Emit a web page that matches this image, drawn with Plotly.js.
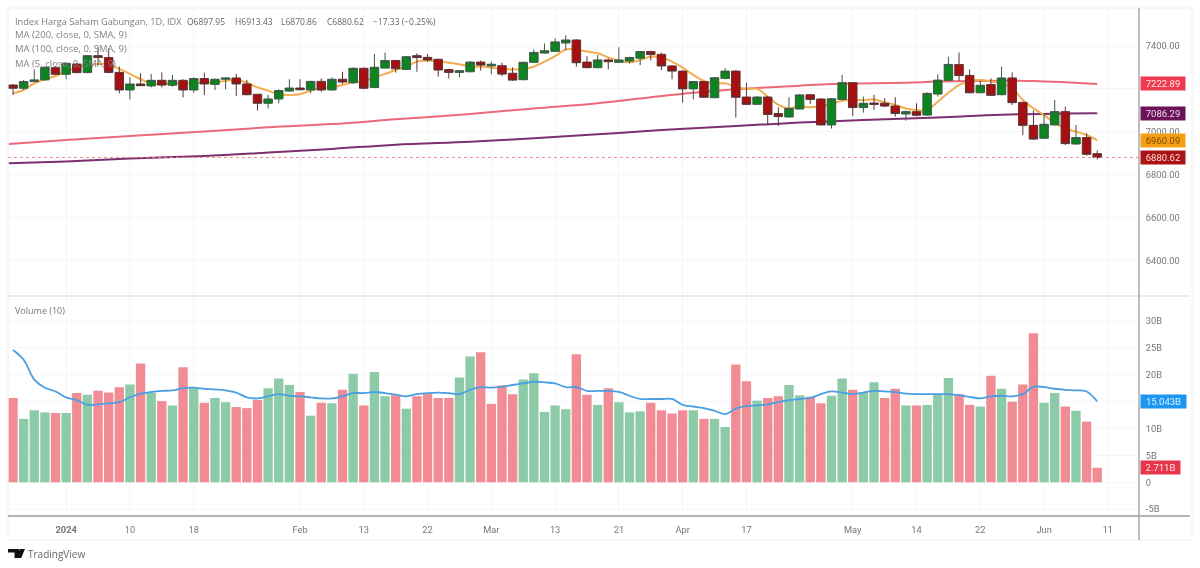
<!DOCTYPE html>
<html><head><meta charset="utf-8">
<script src="https://cdn.plot.ly/plotly-3.0.1.min.js"></script>
<style>html,body{margin:0;padding:0;background:#fff}#c{width:1200px;height:568px;filter:blur(0.45px)}</style></head>
<body><div id="c"></div>
<script>
const opens=[7218,7203,7234,7242,7299,7268,7316,7276,7355,7346,7277,7195,7223,7214,7240,7217,7240,7195,7248,7221,7245,7251,7223,7175,7133,7153,7190,7204,7195,7235,7195,7245,7229,7296,7207,7297,7332,7291,7355,7347,7338,7290,7277,7280,7325,7307,7308,7273,7243,7324,7367,7375,7414,7428,7325,7299,7335,7324,7330,7343,7374,7361,7307,7283,7200,7234,7159,7249,7283,7162,7128,7162,7085,7069,7106,7173,7153,7032,7151,7229,7113,7134,7133,7120,7083,7094,7078,7176,7240,7314,7263,7182,7220,7173,7251,7137,7030,6970,7032,7094,6943,6973,6897.95];
const highs=[7223,7242,7291,7304,7307,7322,7322,7358,7397,7389,7304,7254,7273,7270,7277,7265,7245,7254,7276,7248,7254,7270,7242,7176,7172,7198,7245,7245,7238,7249,7254,7280,7301,7301,7363,7369,7335,7353,7366,7363,7341,7291,7288,7329,7332,7327,7322,7301,7327,7384,7412,7436,7450,7431,7353,7358,7342,7394,7350,7377,7378,7369,7310,7288,7237,7237,7254,7296,7288,7229,7167,7167,7114,7161,7176,7176,7156,7158,7265,7232,7164,7173,7156,7161,7099,7133,7184,7268,7350,7370,7291,7238,7249,7304,7277,7140,7099,7083,7148,7117,7032,6993,6913.43];
const lows=[7172,7195,7234,7238,7265,7245,7273,7273,7311,7273,7179,7151,7214,7207,7207,7210,7161,7182,7172,7195,7198,7167,7170,7099,7109,7133,7187,7195,7179,7187,7192,7223,7223,7198,7203,7296,7276,7288,7280,7327,7257,7249,7254,7277,7285,7268,7260,7238,7240,7322,7366,7374,7381,7304,7296,7296,7291,7322,7319,7311,7332,7288,7245,7136,7151,7158,7156,7245,7066,7125,7125,7033,7027,7066,7105,7130,7030,7015,7148,7074,7089,7102,7114,7071,7052,7071,7075,7164,7237,7238,7179,7179,7167,7170,7125,6984,6962,6966,7029,6938,6940,6889,6870.86];
const closes=[7203,7234,7242,7301,7268,7319,7276,7355,7346,7277,7195,7223,7215,7240,7218,7240,7195,7248,7223,7245,7251,7223,7173,7133,7153,7192,7204,7196,7235,7195,7245,7232,7296,7203,7301,7332,7294,7350,7346,7335,7288,7277,7285,7325,7311,7315,7269,7241,7324,7370,7378,7419,7428,7322,7299,7335,7327,7335,7346,7374,7360,7307,7283,7200,7234,7161,7252,7283,7161,7128,7162,7081,7071,7109,7172,7151,7032,7154,7229,7113,7133,7128,7120,7085,7094,7077,7179,7241,7314,7262,7182,7217,7170,7251,7136,7030,6966,7035,7094,6945,6973,6895,6880.62];
const ma5=[7179,7195,7226,7245,7260,7280,7299,7311,7316,7315,7293,7270,7245,7226,7221,7226,7226,7226,7229,7231,7237,7242,7229,7207,7192,7175,7172,7175,7192,7203,7207,7218,7231,7237,7254,7270,7288,7304,7327,7332,7329,7322,7315,7304,7304,7299,7293,7291,7293,7304,7327,7353,7384,7384,7374,7366,7347,7332,7324,7335,7350,7347,7327,7299,7265,7237,7226,7226,7210,7200,7200,7164,7125,7109,7120,7114,7120,7130,7145,7148,7148,7151,7137,7125,7109,7102,7102,7140,7182,7218,7238,7241,7234,7226,7203,7148,7109,7078,7040,7016,7001,6985,6960.09];
const maRedX=[-0.4,5,11,18,24,30,36,43,49,55,60,64,68,74,77,84,87,93,96,99,102];
const maRed=[6943,6962,6980,7001,7021,7036,7058,7083,7109,7133,7161,7182,7198,7215,7223,7229,7234,7238,7237,7231,7222.89];
const maPurpleX=[-0.4,5,11,18,24,30,36,43,49,55,61,68,74,80,87,93,99,102];
const maPurple=[6853,6862,6875,6887,6903,6920,6940,6954,6970,6988,7008,7027,7043,7055,7067,7080,7085,7086.29];
const volume=[15.7,11.8,13.4,13.0,12.9,12.9,16.6,16.3,17.05,16.7,17.7,18.2,22.1,16.6,15.1,14.3,21.4,17.5,14.8,15.7,14.9,14.0,13.8,15.3,17.5,19.3,18.1,16.8,12.4,14.8,14.7,17.2,20.2,14.3,20.5,16.0,16.2,13.7,16.0,16.5,15.7,15.7,19.5,23.4,24.2,14.6,18.0,16.4,19.1,20.3,13.1,14.3,13.6,23.8,16.3,14.4,17.5,14.9,13.0,13.2,14.8,13.4,12.8,13.4,13.4,11.8,11.8,10.3,21.9,18.8,15.2,15.7,16.0,18.1,16.2,15.9,14.7,16.1,19.3,17.2,16.7,18.6,15.7,17.4,14.3,14.3,14.4,16.3,19.4,16.4,14.4,14.1,19.8,17.4,15.0,18.2,27.7,14.8,16.6,14.1,13.3,11.3,2.711];
const volDown="1,0,0,0,1,0,1,0,1,1,1,0,1,0,1,0,1,0,1,0,0,1,1,1,0,0,0,1,0,1,0,1,0,1,0,0,1,0,1,1,1,1,0,0,1,1,1,1,0,0,0,0,0,1,1,0,1,0,0,0,1,1,1,1,0,1,0,0,1,1,0,1,1,0,0,1,1,0,0,1,0,0,1,1,0,1,0,0,0,1,1,0,1,0,1,1,1,0,0,1,0,1,1".split(",").map(Number);
const volMA=[24.6,22.8,19.1,17.6,16.9,15.8,15.3,14.4,14.5,14.7,14.9,15.8,16.5,16.8,17.0,17.1,17.5,17.6,17.4,17.3,17.1,16.7,15.8,15.6,16.0,16.4,16.1,16.0,15.8,15.6,15.6,16.0,16.6,16.6,16.8,16.6,16.3,16.0,16.4,16.6,16.7,16.6,16.4,17.2,17.7,17.6,17.8,18.1,18.4,18.7,18.6,18.4,17.7,17.7,17.0,17.0,17.0,16.8,16.1,15.5,15.5,15.5,15.5,14.4,14.1,13.8,13.3,12.7,13.7,14.2,14.3,14.5,14.9,15.3,15.5,15.7,16.4,16.9,16.7,16.4,16.7,17.0,16.9,16.8,16.5,16.4,16.4,16.4,16.4,16.2,15.9,15.6,16.0,16.1,16.0,16.4,17.8,17.7,17.4,17.2,17.1,16.9,15.043];
const xTickIdx=[5,11,17,27,33,39,45,51,57,63,69,79,85,91,97,103];
const xTickText=['<b>2024</b>','10','18','Feb','13','22','Mar','13','21','Apr','17','May','14','22','Jun','11'];
const priceTicks=[6400,6600,6800,7000,7200,7400];
const priceTickText=['6400.00','6600.00','6800.00','7000.00','','7400.00'];
const volTicks=[-5,0,5,10,15,20,25,30];
const volTickText=['-5B','0','5B','10B','','20B','25B','30B'];
const titleText='Index Harga Saham Gabungan, 1D, IDX';
const ohlcText=['O6897.95','H6913.43','L6870.86','C6880.62','−17.33 (−0.25%)'];
const ohlcLeft=[187,235,281,327,373];
const studyLines=['MA (200, close, 0, SMA, 9)','MA (100, close, 0, SMA, 9)','MA (5, close, 0, SMA, 9)'];

const idx=opens.map((_,i)=>i);
const W=1200,H=568,FONT='"Open Sans",sans-serif',TICK='Roboto,sans-serif';
const px=x=>x/W, py=y=>1-y/H;
const line=(x0,y0,x1,y1,c,w)=>({type:'line',xref:'paper',yref:'paper',x0:px(x0),y0:py(y0),x1:px(x1),y1:py(y1),line:{color:c,width:w},layer:'above'});
const poly=(pts,c)=>({type:'path',xref:'paper',yref:'paper',path:'M'+pts.map(p=>px(p[0])+','+py(p[1])).join('L')+'Z',fillcolor:c,line:{width:0}});
const tag=(val,yref,text,bg,fg,wd)=>({xref:'paper',yref,x:px(1139.5),y:val,xanchor:'left',yanchor:'middle',text,showarrow:false,
  bgcolor:bg,font:{family:TICK,size:9.5,color:fg},width:wd,height:12.5,align:'center',borderpad:0});
const note=(x,y,t,c,s)=>({xref:'paper',yref:'paper',x:px(x-2),y:py(y),xanchor:'left',yanchor:'middle',text:t,showarrow:false,font:{family:FONT,size:s||9,color:c}});

const priceRange=[7400-(296-46)*4.662,7400+(46-8)*4.662];
const traces=[
 {type:'scatter',mode:'lines',x:maRedX,y:maRed,line:{color:'#ec6a78',width:2,shape:'spline'},xaxis:'x',yaxis:'y',hoverinfo:'skip'},
 {type:'scatter',mode:'lines',x:maPurpleX,y:maPurple,line:{color:'#7d2f70',width:2,shape:'spline'},xaxis:'x',yaxis:'y',hoverinfo:'skip'},
 {type:'scatter',mode:'lines',x:idx,y:ma5,line:{color:'#f3ad4e',width:2,shape:'spline'},xaxis:'x',yaxis:'y',hoverinfo:'skip'},
 {type:'candlestick',x:idx,open:opens,high:highs,low:lows,close:closes,xaxis:'x',yaxis:'y3',whiskerwidth:0,
  increasing:{line:{color:'#3c5a44',width:1},fillcolor:'#0c8420'},decreasing:{line:{color:'#5c3232',width:1},fillcolor:'#a80f10'}},
 {type:'bar',x:idx,y:volume,xaxis:'x',yaxis:'y2',width:0.88,marker:{color:volDown.map(d=>d?'#f18c95':'#8dcba8'),line:{width:0}}},
 {type:'scatter',mode:'lines',x:idx,y:volMA,line:{color:'#4a9fe2',width:1.8,shape:'spline'},xaxis:'x',yaxis:'y2',hoverinfo:'skip'}
];
const axisFont={family:TICK,size:9.3,color:'#777'};
const layout={width:W,height:H,margin:{l:0,r:0,t:0,b:0},paper_bgcolor:'#fff',plot_bgcolor:'#fff',showlegend:false,boxgap:0.2,boxgroupgap:0,bargap:0.1,
 xaxis:{type:'linear',domain:[px(8),px(1139)],range:[-0.47,105.93],anchor:'y2',rangeslider:{visible:false},tickmode:'array',tickvals:xTickIdx,ticktext:xTickText,
  tickfont:axisFont,showgrid:true,gridcolor:'#f6f6f8',gridwidth:1,zeroline:false,showline:false,ticks:'outside',ticklen:5,tickcolor:'rgba(0,0,0,0)',fixedrange:true},
 yaxis:{domain:[py(296),py(8)],range:priceRange,side:'right',anchor:'x',tickmode:'array',tickvals:priceTicks,ticktext:priceTickText,
  tickfont:axisFont,showgrid:true,gridcolor:'#f6f6f8',zeroline:false,showline:false,ticks:'outside',ticklen:4,tickcolor:'rgba(0,0,0,0)'},
 yaxis2:{domain:[py(516),py(296)],range:[-6.26,34.65],side:'right',anchor:'x',tickmode:'array',tickvals:volTicks,ticktext:volTickText,
  tickfont:axisFont,showgrid:true,gridcolor:'#f6f6f8',zeroline:false,showline:false,ticks:'outside',ticklen:4,tickcolor:'rgba(0,0,0,0)'},
 yaxis3:{domain:[py(296),py(8)],range:priceRange,overlaying:'y',side:'right',anchor:'x',visible:false,showgrid:false,zeroline:false},
 shapes:[
  line(8,8,1192,8,'#f0f0f0',1),line(8,8,8,540,'#f0f0f0',1),line(1192,8,1192,540,'#f0f0f0',1),line(8,540,1192,540,'#f0f0f0',1),
  line(8,296,1190,296,'#e4e4e6',1.5),line(8,516,1190,516,'#b5b5b8',1.8),line(1139,8,1139,540,'#a8a8ac',1.5),
  {type:'line',xref:'x',yref:'y',x0:-0.47,x1:105.93,y0:closes[closes.length-1],y1:closes[closes.length-1],line:{color:'#e98b8b',width:1,dash:'dot'},layer:'above'},
  poly([[8,549],[19,549],[19,558],[14.5,558],[14.5,552.5],[8,552.5]],'#111'),
  poly([[19.8,549],[25,549],[21.2,558],[16.5,558]],'#111')
 ],
 annotations:[
  note(15,21,titleText,'#7c7c7c',9.2),
  ...ohlcText.map((t,i)=>note(ohlcLeft[i],21,t,'#666',8.5)),
  ...studyLines.map((t,i)=>note(15,35+14*i,t,'#858585',9.5)),
  note(15,310,'Volume (10)','#777'),
  note(28,554,'TradingView','#666',10),
  tag(7222.89,'y','7222.89','#ee3b50','#ffe3e6',44),
  tag(7086.29,'y','7086.29','#6b1258','#f0d8ec',44),
  tag(6960.09,'y','6960.09','#f5a012','#7a4a05',44),
  tag(6880.62,'y','6880.62','#ab1414','#ffdada',44),
  tag(15.043,'y2','15.043B','#1c96f0','#d9efff',45),
  tag(2.711,'y2','2.711B','#e6364c','#ffe3e6',39)
 ]
};
Plotly.newPlot('c',traces,layout,{displayModeBar:false,staticPlot:true});
</script></body></html>
